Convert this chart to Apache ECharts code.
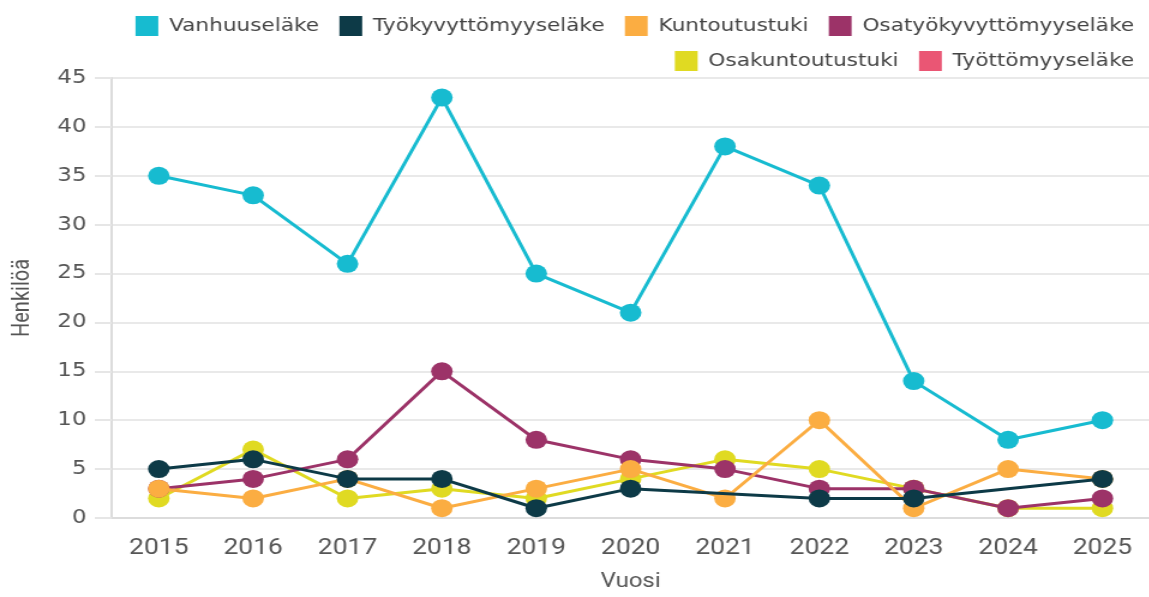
<!DOCTYPE html>
<html>
<head>
<meta charset="utf-8">
<script src="https://cdn.jsdelivr.net/npm/echarts@6/dist/echarts.min.js"></script>
<style>
  html, body { margin: 0; padding: 0; background: #fff; overflow: hidden; }
  /* the reference is stretched sideways, so the chart is drawn narrower and scaled */
  #chart { width: 958px; height: 597px; transform: scaleX(1.2); transform-origin: 0 0; }
</style>
</head>
<body>
<div id="chart"></div>
<script>
const years = ['2015', '2016', '2017', '2018', '2019', '2020', '2021', '2022', '2023', '2024', '2025']
const yTicks = [0, 5, 10, 15, 20, 25, 30, 35, 40, 45]

const seriesNames = ['Vanhuuseläke', 'Työkyvyttömyyseläke', 'Kuntoutustuki', 'Osatyökyvyttömyyseläke', 'Osakuntoutustuki', 'Työttömyyseläke']
const vanhuuselake = [35, 33, 26, 43, 25, 21, 38, 34, 14, 8, 10]
const tyokyvyttomyyselake = [5, 6, 4, 4, 1, 3, null, 2, 2, null, 4]
const kuntoutustuki = [3, 2, 4, 1, 3, 5, 2, 10, 1, 5, 4]
const osatyokyvyttomyyselake = [3, 4, 6, 15, 8, 6, 5, 3, 3, 1, 2]
const osakuntoutustuki = [2, 7, 2, 3, 2, 4, 6, 5, 3, 1, 1]
const tyottomyyselake = []

const colors = ['#17bbd0', '#0d3a47', '#fbad42', '#9c3368', '#e0da22', '#ea5674']
const values = [vanhuuselake, tyokyvyttomyyselake, kuntoutustuki, osatyokyvyttomyyselake, osakuntoutustuki, tyottomyyselake]

const chart = echarts.init(document.getElementById('chart'))

const legendText = { fontFamily: 'DejaVu Sans', fontSize: 18, color: '#444', padding: [0, 0, 0, 4] }
const legendBase = {
  orient: 'horizontal',
  right: 8,
  itemWidth: 19,
  itemHeight: 20,
  itemGap: 17,
  icon: 'rect',
  textStyle: legendText
}

const series = values.map((data, i) => {
  return {
    name: seriesNames[i],
    type: 'line',
    data: data,
    connectNulls: true,
    symbol: 'circle',
    symbolSize: 18,
    z: 10 - i,
    lineStyle: { width: 3, color: colors[i] },
    itemStyle: { color: colors[i] }
  }
})

chart.setOption({
  animation: false,
  color: colors,
  legend: [
    Object.assign({}, legendBase, { top: 11, data: seriesNames.slice(0, 4) }),
    Object.assign({}, legendBase, { top: 46, data: seriesNames.slice(4) })
  ],
  grid: {
    left: 93,
    right: -21,
    top: 78,
    bottom: 78
  },
  xAxis: {
    type: 'category',
    data: years,
    boundaryGap: true,
    name: 'Vuosi',
    nameLocation: 'middle',
    nameGap: 54,
    nameTextStyle: { fontFamily: 'Roboto', fontSize: 20, color: '#555' },
    axisLine: { lineStyle: { color: '#dcdcdc', width: 2 } },
    axisTick: { show: false },
    axisLabel: { fontFamily: 'Roboto', fontSize: 22, color: '#555', margin: 19 },
    splitLine: { show: false }
  },
  yAxis: {
    type: 'value',
    min: yTicks[0],
    max: yTicks[yTicks.length - 1],
    interval: 5,
    name: 'Henkilöä',
    nameLocation: 'middle',
    nameGap: 64,
    nameRotate: 90,
    nameTextStyle: { fontFamily: 'Roboto', fontSize: 20, color: '#555' },
    axisLine: { show: true, lineStyle: { color: '#dcdcdc', width: 2 } },
    axisTick: { show: true, length: 14, lineStyle: { color: '#e6e6e6', width: 2 } },
    axisLabel: { fontFamily: 'DejaVu Sans', fontSize: 19, color: '#555', margin: 21 },
    splitLine: { lineStyle: { color: '#e9e9e9', width: 2 } }
  },
  series: series
})
</script>
</body>
</html>
